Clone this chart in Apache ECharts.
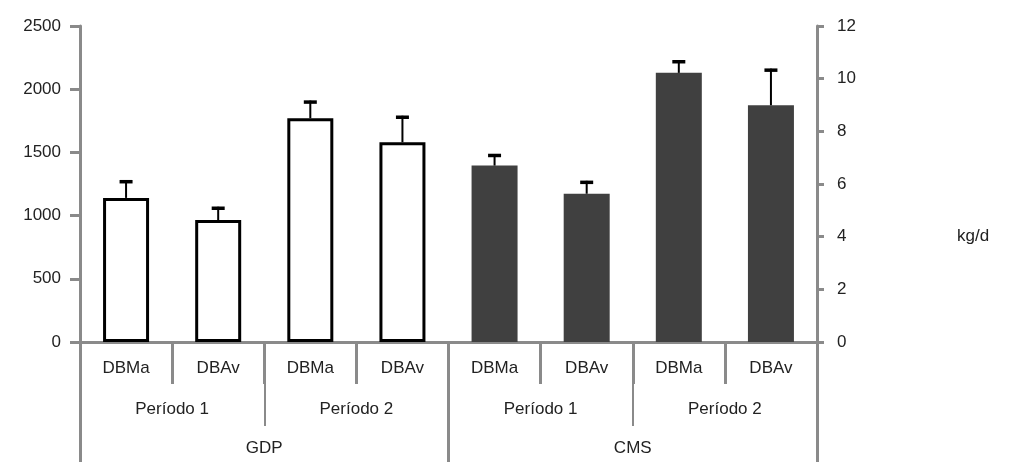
<!DOCTYPE html>
<html>
<head>
<meta charset="utf-8">
<script src="https://cdn.jsdelivr.net/npm/echarts@6/dist/echarts.min.js"></script>
<style>html,body{margin:0;padding:0;background:#fff;}#c{width:1010px;height:462px;}</style>
</head>
<body>
<div id="c"></div>
<script>
const subCategories = ['DBMa','DBAv','DBMa','DBAv','DBMa','DBAv','DBMa','DBAv'];
const periodCategories = ['Período 1','Período 2','Período 1','Período 2'];
const groupCategories = ['GDP','CMS'];
const gdpMean  = [1140, 965, 1770, 1580, '-', '-', '-', '-'];
const gdpUpper = [1280, 1070, 1910, 1790, '-', '-', '-', '-'];
const cmsMean  = ['-', '-', '-', '-', 6.70, 5.63, 10.22, 8.99];
const cmsUpper = ['-', '-', '-', '-', 7.14, 6.12, 10.70, 10.38];
const leftTicks = {min: 0, max: 2500, interval: 500};
const rightTicks = {min: 0, max: 12, interval: 2};
const unitLabel = 'kg/d';

const FONT = 'Liberation Sans, Arial, sans-serif';
const FS = 17;
const TXT = '#222';
const AX = '#8a8a8a';

function errData(mean, upper) {
  const out = [];
  mean.forEach((m, i) => { if (m !== '-') out.push([i, m, upper[i]]); });
  return out;
}
function errRender(params, api) {
  const p0 = api.coord([api.value(0), api.value(1)]);
  const p1 = api.coord([api.value(0), api.value(2)]);
  return {
    type: 'group',
    children: [
      {type: 'line', shape: {x1: p0[0], y1: p0[1], x2: p1[0], y2: p1[1]}, style: {stroke: '#000', lineWidth: 2}},
      {type: 'line', shape: {x1: p1[0] - 6.5, y1: p1[1] + 1.5, x2: p1[0] + 6.5, y2: p1[1] + 1.5}, style: {stroke: '#000', lineWidth: 3.5}}
    ]
  };
}

const chart = echarts.init(document.getElementById('c'), null, {renderer: 'canvas'});
chart.setOption({
  animation: false,
  backgroundColor: '#fff',
  grid: {left: 80, right: 193, top: 26, bottom: 120, containLabel: false},
  xAxis: [
    {
      type: 'category', data: subCategories, position: 'bottom', boundaryGap: true,
      axisLine: {show: true, lineStyle: {color: AX, width: 3}},
      axisTick: {show: true, length: 42, interval: 0, lineStyle: {color: AX, width: 3}},
      axisLabel: {show: true, interval: 0, margin: 18, color: TXT, fontFamily: FONT, fontSize: FS}
    },
    {
      type: 'category', data: periodCategories, position: 'bottom', boundaryGap: true,
      axisLine: {show: false},
      axisTick: {show: true, length: 84, interval: 0, lineStyle: {color: AX, width: 2}},
      axisLabel: {show: true, interval: 0, margin: 59, color: TXT, fontFamily: FONT, fontSize: FS}
    },
    {
      type: 'category', data: groupCategories, position: 'bottom', boundaryGap: true,
      axisLine: {show: false},
      axisTick: {show: true, length: 125, interval: 0, lineStyle: {color: AX, width: 3}},
      axisLabel: {show: true, interval: 0, margin: 98, color: TXT, fontFamily: FONT, fontSize: FS}
    }
  ],
  yAxis: [
    {
      type: 'value', position: 'left', min: leftTicks.min, max: leftTicks.max, interval: leftTicks.interval,
      splitLine: {show: false},
      axisLine: {show: true, lineStyle: {color: AX, width: 3}},
      axisTick: {show: true, length: 10, lineStyle: {color: AX, width: 3}},
      axisLabel: {margin: 19, color: TXT, fontFamily: FONT, fontSize: FS, formatter: v => String(v)}
    },
    {
      type: 'value', position: 'right', min: rightTicks.min, max: rightTicks.max, interval: rightTicks.interval,
      splitLine: {show: false},
      axisLine: {show: true, lineStyle: {color: AX, width: 3}},
      axisTick: {show: true, length: 7, lineStyle: {color: AX, width: 3}},
      axisLabel: {margin: 20, color: TXT, fontFamily: FONT, fontSize: FS, formatter: v => String(v)}
    }
  ],
  series: [
    {
      type: 'bar', name: 'GDP', xAxisIndex: 0, yAxisIndex: 0, data: gdpMean, barWidth: 46, barGap: '-100%',
      itemStyle: {color: '#fff', borderColor: '#000', borderWidth: 3}, z: 2
    },
    {
      type: 'bar', name: 'CMS', xAxisIndex: 0, yAxisIndex: 1, data: cmsMean, barWidth: 46, barGap: '-100%',
      itemStyle: {color: '#404040'}, z: 2
    },
    {
      type: 'custom', xAxisIndex: 0, yAxisIndex: 0, data: errData(gdpMean, gdpUpper),
      encode: {x: 0, y: [1, 2]}, renderItem: errRender, z: 3
    },
    {
      type: 'custom', xAxisIndex: 0, yAxisIndex: 1, data: errData(cmsMean, cmsUpper),
      encode: {x: 0, y: [1, 2]}, renderItem: errRender, z: 3
    }
  ],
  graphic: [
    {type: 'text', left: 957, top: 228, style: {text: unitLabel, fill: TXT, font: FS + 'px ' + FONT}}
  ]
});
</script>
</body>
</html>
